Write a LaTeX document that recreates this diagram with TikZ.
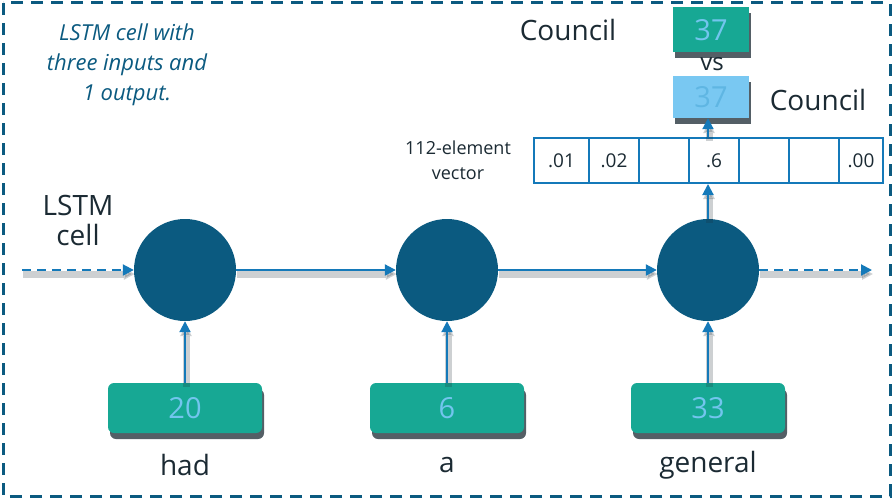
\documentclass[tikz,border=0pt]{standalone}
\usepackage{fontspec}
\setmainfont{Open Sans}
\usetikzlibrary{arrows.meta,shadows}
\definecolor{navy}{HTML}{0B5A80}
\definecolor{arrowblue}{HTML}{1479B9}
\definecolor{tealbox}{HTML}{17A894}
\definecolor{lightblue}{HTML}{72C5EE}
\definecolor{bluebox}{HTML}{79C8F2}
\definecolor{ink}{HTML}{1B2A33}
\tikzset{
  cellnode/.style={circle, fill=navy, draw=none, minimum size=102pt, inner sep=0pt},
  inbox/.style={rectangle, rounded corners=6pt, fill=tealbox, draw=none, minimum width=154pt, minimum height=50pt, inner sep=0pt, text=lightblue, font=\fontsize{29}{32}\selectfont, drop shadow={shadow xshift=2pt, shadow yshift=-6pt, opacity=0.75, fill=ink}},
  outbox/.style={rectangle, fill=tealbox, draw=none, minimum width=76pt, minimum height=45pt, inner sep=0pt, text=lightblue, font=\fontsize{29}{32}\selectfont, drop shadow={shadow xshift=2pt, shadow yshift=-6pt, opacity=0.75, fill=ink}},
  predbox/.style={rectangle, fill=bluebox, draw=none, minimum width=76pt, minimum height=42pt, inner sep=0pt, text=lightblue!80!arrowblue, font=\fontsize{29}{32}\selectfont, drop shadow={shadow xshift=2pt, shadow yshift=-6pt, opacity=0.75, fill=ink}},
  word/.style={text=ink, font=\fontsize{28}{32}\selectfont, inner sep=0pt},
  smallword/.style={text=ink, font=\fontsize{18}{25}\selectfont, inner sep=0pt, align=center},
  vcell/.style={rectangle, draw=arrowblue, line width=2pt, minimum height=45pt, inner sep=0pt, text=ink, font=\fontsize{19}{22}\selectfont},
  conn/.style={draw=arrowblue, line width=2pt, -{Triangle[length=11pt,width=11pt]},
    preaction={draw=ink, opacity=0.22, line width=7pt, transform canvas={xshift=1pt,yshift=-4pt}}},
  note/.style={text=navy, font=\itshape\fontsize{22}{30}\selectfont, align=center, inner sep=0pt}
}
\begin{document}
\begin{tikzpicture}[x=1pt,y=-1pt]
\useasboundingbox (0,0) rectangle (893,500);
% frame
\draw[navy, line width=3pt, dash pattern=on 12pt off 8pt] (3,3) rectangle (890,496);

% note
\node[note] (note) at (127,65) {LSTM cell with\\three inputs and\\1 output.};

% LSTM cell label
\node[word, align=center] (lstm) at (78,220) {LSTM\\[-2pt]cell};

% cells
\node[cellnode] (c1) at (185,270) {};
\node[cellnode] (c2) at (447,270) {};
\node[cellnode] (c3) at (708,270) {};

\coordinate (lin) at (22,270);
\coordinate (lout) at (872,270);

% input boxes
\node[inbox] (b1) at (185,408) {20};
\node[inbox] (b2) at (447,408) {6};
\node[inbox] (b3) at (708,408) {33};

\node[word] (w1) at (185,465) {had};
\node[word] (w2) at (447,465) {a};
\node[word] (w3) at (708,465) {general};

% vector
\node[vcell, minimum width=55pt] (v1) at (561.5,160.5) {.01};
\node[vcell, minimum width=50pt] (v2) at (614,160.5) {.02};
\node[vcell, minimum width=50pt] (v3) at (664,160.5) {};
\node[vcell, minimum width=50pt] (v4) at (714,160.5) {.6};
\node[vcell, minimum width=50pt] (v5) at (764,160.5) {};
\node[vcell, minimum width=50pt] (v6) at (814,160.5) {};
\node[vcell, minimum width=44pt] (v7) at (861,160.5) {.00};
\node[smallword] (vlab) at (458,160) {112-element\\vector};

% outputs
\node[word, font=\fontsize{24}{28}\selectfont] (vs) at (712,64) {vs};
\node[outbox] (t1) at (711,30) {37};
\node[predbox] (t2) at (711,97) {37};
\node[word] (cl) at (568,30) {Council};
\node[word] (cr) at (818,100) {Council};

% connectors
\draw[conn, dash pattern=on 9pt off 6pt] (lin) -- (c1.west);
\draw[conn] (c1.east) -- (c2.west);
\draw[conn] (c2.east) -- (c3.west);
\draw[conn, dash pattern=on 9pt off 6pt] (c3.east) -- (lout);
\draw[conn] (b1.north) -- (c1.south);
\draw[conn] (b2.north) -- (c2.south);
\draw[conn] (b3.north) -- (c3.south);
\draw[conn] (c3.north) -- (c3.north |- v4.south);
\draw[conn] (c3.north |- v4.north) -- (c3.north |- t2.south);
\end{tikzpicture}
\end{document}
